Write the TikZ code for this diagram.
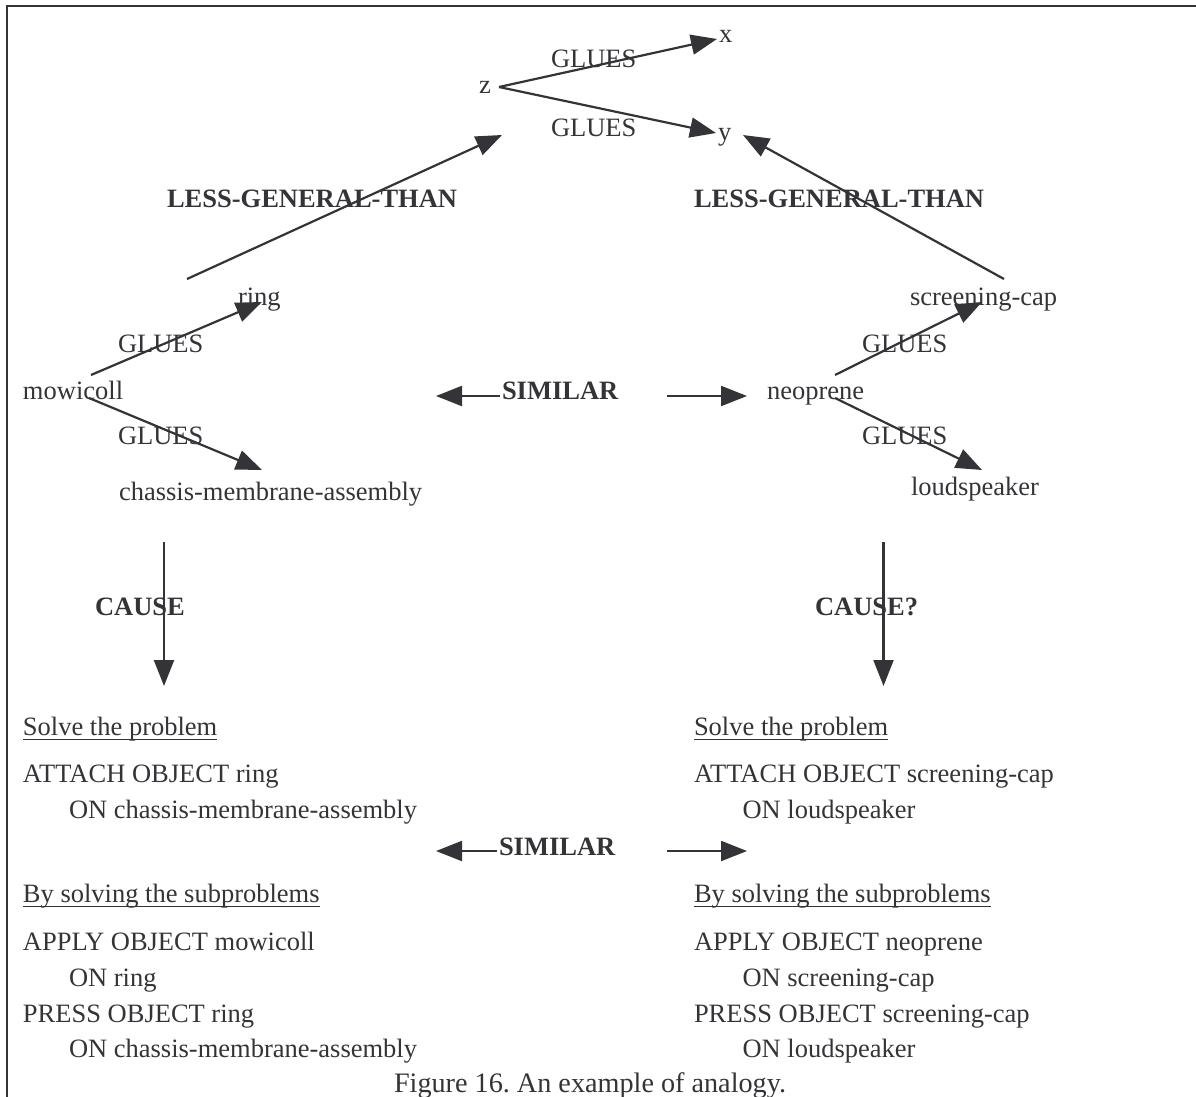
\documentclass[tikz,border=0pt]{standalone}
\usepackage{fontspec}
\setmainfont{Liberation Serif}
\usetikzlibrary{arrows.meta}
\definecolor{ink}{RGB}{52,52,56}
\frenchspacing
\begin{document}
\begin{tikzpicture}[x=1pt,y=-1pt,
  every node/.style={inner sep=0pt, outer sep=0pt, anchor=base west, text=ink,
    font=\fontsize{26.5}{30}\selectfont},
  rel/.style={font=\fontsize{26.5}{30}\selectfont\bfseries},
  link/.style={draw=ink, line width=2.2pt, -{Triangle[length=26pt,width=20pt]}},
  frameline/.style={draw=ink, line width=2pt},
  uline/.style={draw=ink, line width=1.4pt}]
\useasboundingbox (0,0) rectangle (1196,1097);

% frame
\draw[frameline] (7,1097) -- (7,6) -- (1196,6);

% general pattern: z glues x and y
\node (x) at (719,43) {x};
\node (z) at (479,94) {z};
\node (y) at (718,140) {y};
\node (g1) at (551,68) {GLUES};
\node (g2) at (551,136) {GLUES};
\coordinate (zout) at (499,87);
\coordinate (xin) at (717,39);
\coordinate (yin) at (716,133);
\draw[link] (zout) -- (xin);
\draw[link] (zout) -- (yin);

% generalisation links
\node[rel] (lgtL) at (167,207) {LESS-GENERAL-THAN};
\node[rel] (lgtR) at (694,207) {LESS-GENERAL-THAN};
\coordinate (lgtLs) at (187,279);
\coordinate (lgtLe) at (502,135);
\coordinate (lgtRs) at (1004,279);
\coordinate (lgtRe) at (743,135);
\draw[link] (lgtLs) -- (lgtLe);
\draw[link] (lgtRs) -- (lgtRe);

% left case
\node (ring) at (238,305) {ring};
\node (g3) at (118,352) {GLUES};
\node (mow) at (23,399) {mowicoll};
\node (g5) at (118,444) {GLUES};
\node (cma) at (119,500) {chassis-membrane-assembly};
\coordinate (mowA) at (91,375);
\coordinate (ringIn) at (262,302);
\coordinate (mowB) at (89,398);
\coordinate (cmaIn) at (262,470);
\draw[link] (mowA) -- (ringIn);
\draw[link] (mowB) -- (cmaIn);

% right case
\node (scap) at (910,305) {screening-cap};
\node (g4) at (862,352) {GLUES};
\node (neo) at (767,399) {neoprene};
\node (g6) at (862,444) {GLUES};
\node (lsp) at (911,495) {loudspeaker};
\coordinate (neoA) at (835,375);
\coordinate (scapIn) at (982,302);
\coordinate (neoB) at (835,398);
\coordinate (lspIn) at (982,470);
\draw[link] (neoA) -- (scapIn);
\draw[link] (neoB) -- (lspIn);

% similarity of the two cases
\node[rel] (sim1) at (502,399) {SIMILAR};
\coordinate (sim1L) at (500,396);
\coordinate (sim1Lt) at (436,396);
\coordinate (sim1R) at (667,396);
\coordinate (sim1Rt) at (747,396);
\draw[link] (sim1L) -- (sim1Lt);
\draw[link] (sim1R) -- (sim1Rt);

% causal links
\node[rel] (cause) at (95,615) {CAUSE};
\node[rel] (causeq) at (815,615) {CAUSE?};
\coordinate (cL1) at (164,542);
\coordinate (cL2) at (164,686);
\coordinate (cR1) at (883.5,542);
\coordinate (cR2) at (883.5,686);
\draw[link] (cL1) -- (cL2);
\draw[link] (cR1) -- (cR2);

% left plan
\node (lsolve) at (23,735) {Solve the problem};
\node (lattach) at (23,782) {ATTACH OBJECT ring};
\node (lattachon) at (69,818) {ON chassis-membrane-assembly};
\node (lsub) at (23,902) {By solving the subproblems};
\node (lapply) at (23,950) {APPLY OBJECT mowicoll};
\node (lapplyon) at (69,986) {ON ring};
\node (lpress) at (23,1022) {PRESS OBJECT ring};
\node (lpresson) at (69,1057) {ON chassis-membrane-assembly};

% right plan
\node (rsolve) at (694,735) {Solve the problem};
\node (rattach) at (694,782) {ATTACH OBJECT screening-cap};
\node (rattachon) at (742.5,818) {ON loudspeaker};
\node (rsub) at (694,902) {By solving the subproblems};
\node (rapply) at (694,950) {APPLY OBJECT neoprene};
\node (rapplyon) at (742.5,986) {ON screening-cap};
\node (rpress) at (694,1022) {PRESS OBJECT screening-cap};
\node (rpresson) at (742.5,1057) {ON loudspeaker};

% underlines of the headings
\foreach \h in {lsolve,lsub,rsolve,rsub}
  \draw[uline] ([yshift=-4.5pt]\h.base west) -- ([yshift=-4.5pt]\h.base east);

% similarity of the two plans
\node[rel] (sim2) at (499,855) {SIMILAR};
\coordinate (sim2L) at (497,851);
\coordinate (sim2Lt) at (436,851);
\coordinate (sim2R) at (667,851);
\coordinate (sim2Rt) at (747,851);
\draw[link] (sim2L) -- (sim2Lt);
\draw[link] (sim2R) -- (sim2Rt);

% caption
\node[font=\fontsize{28.2}{32}\selectfont] (cap) at (394,1092) {Figure 16. An example of analogy.};
\end{tikzpicture}
\end{document}
